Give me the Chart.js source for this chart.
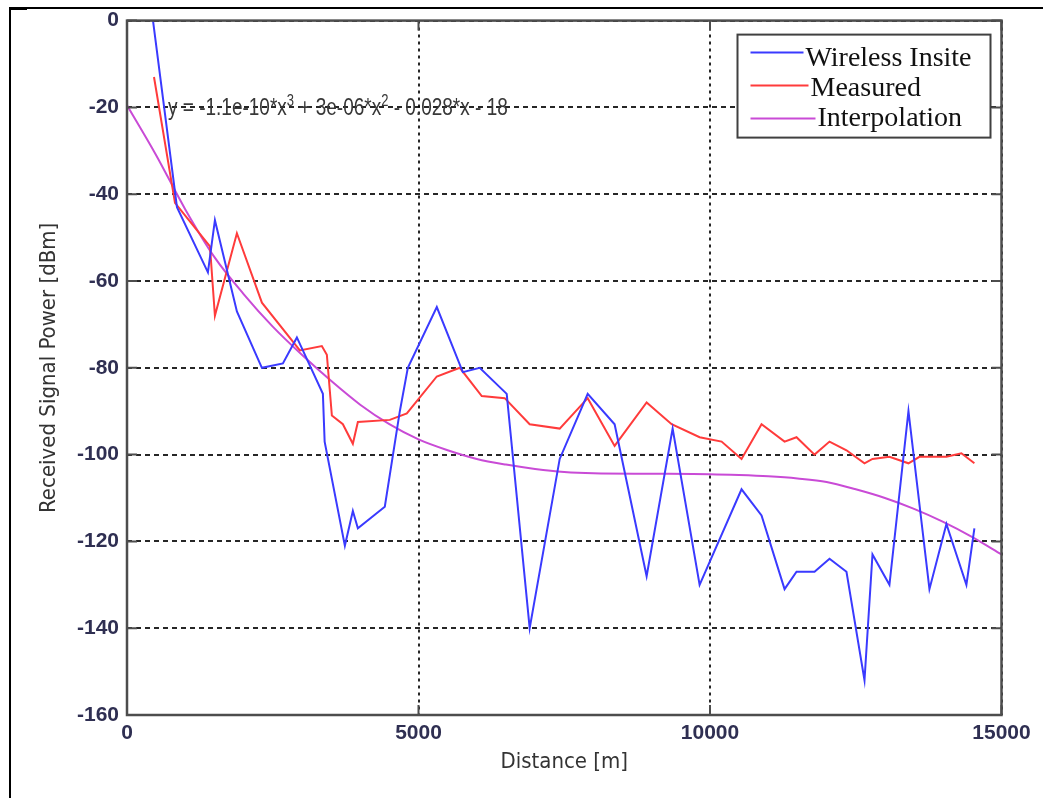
<!DOCTYPE html>
<html>
<head>
<meta charset="utf-8">
<title>Received Signal Power vs Distance</title>
<script src="https://cdn.jsdelivr.net/npm/chart.js@4.4.1/dist/chart.umd.min.js"></script>
<style>
  html, body { margin: 0; padding: 0; background: #ffffff; }
  .chart-box { position: relative; width: 1051px; height: 798px; }
</style>
</head>
<body>
<div class="chart-box"><canvas id="signal-chart"></canvas></div>
<script>
// axis ticks
const xTickValues = [0, 5000, 10000, 15000];
const yTickValues = [0, -20, -40, -60, -80, -100, -120, -140, -160];

// Wireless Insite (blue)
const insiteDistance = [446, 857, 1388, 1508, 1885, 2314, 2674, 2914, 3360, 3390, 3737, 3874, 3960, 4422, 4680, 4817,
  5314, 5760, 6050, 6513, 6907, 7422, 7902, 8364, 8913, 9359, 9822, 10541, 10884, 11279, 11484, 11793, 12050,
  12341, 12650, 12787, 13078, 13404, 13764, 14055, 14398, 14535];
const insitePower = [0, -43, -58, -46, -67, -80, -79, -73, -86, -97, -121, -113, -117, -112, -90, -80,
  -66, -81, -80, -86, -140, -101, -86, -93, -128, -94, -130, -108, -114, -131, -127, -127, -124,
  -127, -152, -123, -130, -90, -131, -116, -130, -117];

// Measured (red)
const measuredDistance = [463, 823, 1423, 1508, 1885, 2314, 2965, 3342, 3428, 3514, 3703, 3874, 3960, 4508, 4800,
  5314, 5708, 6085, 6479, 6907, 7422, 7902, 8364, 8913, 9342, 9822, 10199, 10541, 10884, 11279, 11484, 11793,
  12050, 12341, 12650, 12787, 13078, 13404, 13593, 14055, 14312, 14535];
const measuredPower = [-13, -42, -52, -68, -49, -65, -76, -75, -77, -91, -93, -97.5, -92.5, -92, -90.5,
  -82, -80, -86.5, -87, -93, -94, -87, -98, -88, -93, -96, -97, -101, -93, -97, -96, -100,
  -97, -99, -102, -101, -100.5, -102, -100.5, -100.5, -99.7, -102];

// Interpolation (magenta)
const interpDistance = [0, 500, 1000, 1500, 2000, 2500, 3000, 3500, 4000, 4500, 5000, 5500, 6000, 6500, 7000,
  7500, 8000, 9000, 10000, 10500, 11000, 11500, 12000, 12500, 13000, 13500, 14000, 14500, 15000];
const interpPower = [-19.5, -31, -43.5, -54.5, -63, -70.5, -77, -83, -88.5, -93, -96.5, -99, -101, -102.3, -103.3,
  -104, -104.3, -104.4, -104.5, -104.7, -105, -105.5, -106.3, -108, -110, -112.5, -115.5, -119, -123];

const seriesLabels = ['Wireless Insite', 'Measured', 'Interpolation'];
const fitEquation = [['y = -1.1e-10*x', false], ['3', true], [' + 3e-06*x', false], ['2', true], [' - 0.028*x - 18', false]];

const narrowFont = '"Liberation Sans Narrow", "DejaVu Sans Condensed", "Liberation Sans", sans-serif';
const tickColor = '#2f2f52';

function toPoints(xs, ys){
  return xs.map((x, i) => ({x: x, y: ys[i]}));
}

//draws the matlab style axes box, inner ticks, fit equation, legend and outer frame
const figureDecor = {
  id: 'figureDecor',
  beforeDatasetsDraw: (chart) => {
    const {ctx, chartArea} = chart;
    ctx.save();
    ctx.fillStyle = '#383838';
    ctx.textBaseline = 'alphabetic';
    //text in the figure is a bit stretched vertically
    ctx.translate(chartArea.left + 41, chartArea.top + 94);
    ctx.scale(1, 1.25);
    let x = 0;
    fitEquation.forEach(([text, sup]) => {
      ctx.font = (sup ? '13px ' : '19px ') + '"Liberation Sans", Arial, sans-serif';
      ctx.fillText(text, x, sup ? -7 : 0);
      x += ctx.measureText(text).width;
    });
    ctx.restore();
  },
  afterDraw: (chart) => {
    const {ctx, chartArea, scales} = chart;
    const {left, right, top, bottom} = chartArea;
    ctx.save();

    //axes box
    ctx.strokeStyle = '#4d4d4d';
    ctx.lineWidth = 2.5;
    ctx.strokeRect(left, top, right - left, bottom - top);

    //inner ticks
    ctx.lineWidth = 2;
    ctx.beginPath();
    scales.x.ticks.forEach(t => {
      const px = scales.x.getPixelForValue(t.value);
      ctx.moveTo(px, bottom); ctx.lineTo(px, bottom - 10);
      ctx.moveTo(px, top); ctx.lineTo(px, top + 10);
    });
    scales.y.ticks.forEach(t => {
      const py = scales.y.getPixelForValue(t.value);
      ctx.moveTo(left, py); ctx.lineTo(left + 10, py);
      ctx.moveTo(right, py); ctx.lineTo(right - 10, py);
    });
    ctx.stroke();

    //legend
    const boxL = right - 264, boxT = top + 14, boxW = 253, boxH = 103;
    const textOffsets = [68, 73, 80];
    ctx.fillStyle = '#ffffff';
    ctx.fillRect(boxL, boxT, boxW, boxH);
    ctx.strokeStyle = '#404040';
    ctx.lineWidth = 2;
    ctx.strokeRect(boxL, boxT, boxW, boxH);
    ctx.font = '28px "Liberation Serif", "Times New Roman", serif';
    ctx.textBaseline = 'alphabetic';
    chart.data.datasets.forEach((ds, i) => {
      const lineY = boxT + 18 + i * 33;
      const textX = boxL + textOffsets[i];
      ctx.strokeStyle = ds.borderColor;
      ctx.lineWidth = 2;
      ctx.beginPath();
      ctx.moveTo(boxL + 13, lineY);
      ctx.lineTo(textX - 2, lineY);
      ctx.stroke();
      ctx.fillStyle = '#111111';
      ctx.fillText(ds.label, textX, boxT + 31 + i * 30);
    });

    //outer frame of the figure
    ctx.fillStyle = '#000000';
    ctx.fillRect(9, 7, 1034, 2);
    ctx.fillRect(9, 7, 2, 791);
    ctx.fillRect(9, 7, 18, 3);
    ctx.restore();
  }
};

const signalChart = document.getElementById('signal-chart');
new Chart(signalChart, {
  type: 'scatter',
  data: {
    datasets: [{
      label: seriesLabels[0],
      data: toPoints(insiteDistance, insitePower),
      showLine: true,
      borderColor: '#3a3aff',
      borderWidth: 2,
      pointRadius: 0,
      tension: 0,
    }, {
      label: seriesLabels[1],
      data: toPoints(measuredDistance, measuredPower),
      showLine: true,
      borderColor: '#ff3b3b',
      borderWidth: 2,
      pointRadius: 0,
      tension: 0,
    }, {
      label: seriesLabels[2],
      data: toPoints(interpDistance, interpPower),
      showLine: true,
      borderColor: '#c94bd6',
      borderWidth: 2,
      pointRadius: 0,
      cubicInterpolationMode: 'monotone',
    }]
  },
  options: {
    responsive: true,
    maintainAspectRatio: false,
    animation: false,
    devicePixelRatio: 1,
    layout: {
      padding: {left: 0, top: 18, right: 49.5, bottom: 0}
    },
    scales: {
      x: {
        type: 'linear',
        min: 0,
        max: 15000,
        afterBuildTicks: scale => { scale.ticks = xTickValues.map(v => ({value: v})); },
        afterFit: scale => { scale.height = 83; },
        ticks: {
          color: tickColor,
          font: {family: '"Liberation Sans", Arial, sans-serif', size: 21, weight: 'bold'},
          padding: 6,
          maxRotation: 0,
          callback: value => `${value}`
        },
        grid: {
          color: 'rgba(0,0,0,0.85)',
          lineWidth: 2,
          drawTicks: false,
        },
        border: {display: false, dash: [3, 4]},
        title: {
          display: true,
          text: 'Distance [m]',
          color: '#333333',
          font: {family: narrowFont, size: 22},
          padding: {top: 0, bottom: 23}
        }
      },
      y: {
        type: 'linear',
        min: -160,
        max: 0,
        afterBuildTicks: scale => { scale.ticks = yTickValues.map(v => ({value: v})); },
        afterFit: scale => { scale.width = 127; },
        ticks: {
          color: tickColor,
          font: {family: '"Liberation Sans", Arial, sans-serif', size: 21, weight: 'bold'},
          padding: 8,
          callback: value => `${value}`
        },
        grid: {
          color: 'rgba(0,0,0,0.85)',
          lineWidth: 2,
          drawTicks: false,
        },
        border: {display: false, dash: [5, 4]},
        title: {
          display: true,
          text: 'Received Signal Power [dBm]',
          color: '#333333',
          font: {family: narrowFont, size: 22},
          padding: {top: 36, bottom: 0}
        }
      }
    },
    plugins: {
      legend: {display: false},
      tooltip: {enabled: false}
    }
  },
  plugins: [figureDecor],
});
</script>
</body>
</html>
